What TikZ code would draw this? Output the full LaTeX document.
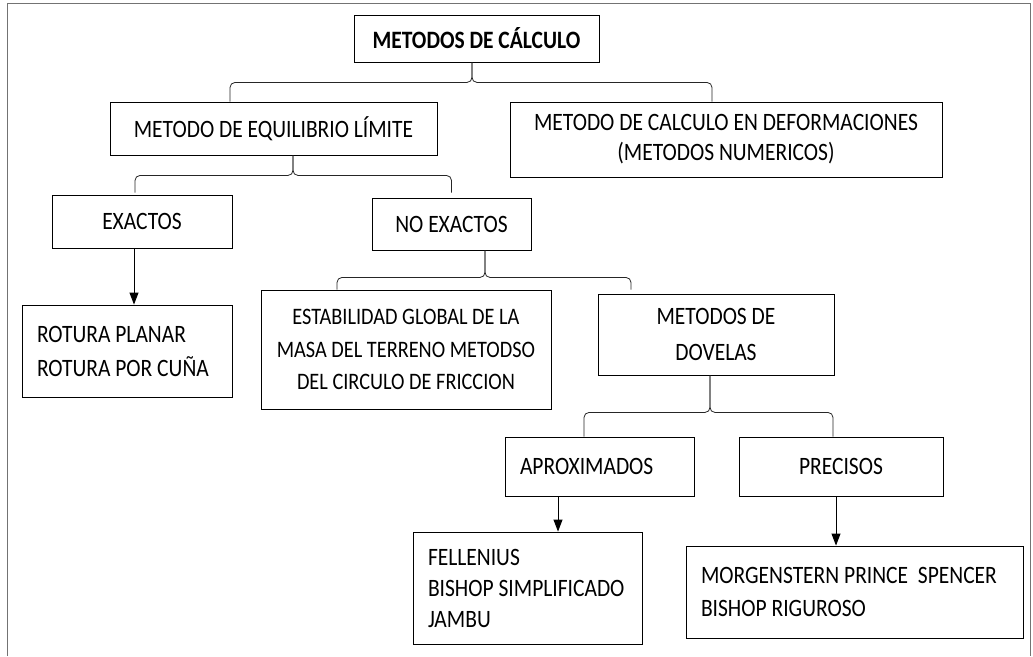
\documentclass[tikz,border=0pt]{standalone}
\usepackage{fontspec}
\setmainfont{Carlito}[FakeStretch=0.86]
\usepackage{tikz}
\usetikzlibrary{positioning}
\usetikzlibrary{arrows.meta}
\definecolor{framegray}{rgb}{0.45,0.45,0.45}

\begin{document}
\begin{tikzpicture}[x=1pt, y=-1pt, line width=0.9pt, >={Triangle[length=12pt, width=9pt]},
    every node/.style = {draw, rectangle, inner sep=0pt, align=center, font=\fontsize{25}{32}\selectfont},
    lbox/.style = {align=flush left, inner xsep=0pt, text width=#1, execute at begin node={\leftskip=15pt}},
    brace/.style = {draw=black!85, line width=0.8pt, rounded corners=5pt}
    ]
    \useasboundingbox (0,0) rectangle (1033,656);
    \draw[framegray, line width=0.8pt] (7,656) |- (1030,3) -- (1030,656);

    \node[minimum width=245pt, minimum height=47pt, font=\fontsize{25}{32}\selectfont\bfseries] (1) at (476.5,38.5) {METODOS DE CÁLCULO};
    \node[minimum width=327pt, minimum height=53pt] (2) at (273.5,128.5) {METODO DE EQUILIBRIO LÍMITE};
    \node[minimum width=432pt, minimum height=75pt, font=\fontsize{25}{30}\selectfont] (3) at (726,139.5) {METODO DE CALCULO EN DEFORMACIONES\\(METODOS NUMERICOS)};
    \node[minimum width=180pt, minimum height=53pt] (4) at (142,221.5) {EXACTOS};
    \node[minimum width=159pt, minimum height=52pt] (5) at (451.5,224) {NO EXACTOS};
    \node[lbox=210pt, minimum height=92pt, font=\fontsize{25}{34}\selectfont] (6) at (127,351) {ROTURA PLANAR\\ROTURA POR CUÑA};
    \node[minimum width=290pt, minimum height=119pt, font=\fontsize{23.6}{32.5}\selectfont] (7) at (406,349.5) {ESTABILIDAD GLOBAL DE LA\\MASA DEL TERRENO METODSO\\DEL CIRCULO DE FRICCION};
    \node[minimum width=236pt, minimum height=81pt, font=\fontsize{25}{36}\selectfont] (8) at (716,334.5) {METODOS DE\\DOVELAS};
    \node[lbox=189pt, minimum height=59pt] (9) at (599.5,466.5) {APROXIMADOS};
    \node[minimum width=204pt, minimum height=59pt] (10) at (841,466.5) {PRECISOS};
    \node[lbox=229pt, minimum height=112pt, font=\fontsize{25}{31}\selectfont] (11) at (527.5,588) {FELLENIUS\\BISHOP SIMPLIFICADO\\JAMBU};
    \node[lbox=337pt, minimum height=92pt, font=\fontsize{25}{33}\selectfont] (12) at (854.5,592) {MORGENSTERN PRINCE \ SPENCER\\BISHOP RIGUROSO};

    % braces
    \draw[brace] ([xshift=-43.5]2.north) |- ([xshift=-4.5, yshift=-20]1.south) -- ([xshift=-4.5]1.south);
    \draw[brace] ([xshift=-14]3.north) |- ([xshift=-4.5, yshift=-20]1.south) -- ([xshift=-4.5]1.south);
    \draw[brace] ([xshift=-7, yshift=2]4.north) |- ([xshift=19.5, yshift=-20]2.south) -- ([xshift=19.5]2.south);
    \draw[brace] ([yshift=5]5.north) |- ([xshift=19.5, yshift=-20]2.south) -- ([xshift=19.5]2.south);
    \draw[brace] ([xshift=-69]7.north) |- ([xshift=33.5, yshift=-27]5.south) -- ([xshift=33.5]5.south);
    \draw[brace] ([xshift=-85, yshift=4]8.north) |- ([xshift=33.5, yshift=-27]5.south) -- ([xshift=33.5]5.south);
    \draw[brace] ([xshift=-15.5]9.north) |- ([xshift=-6, yshift=-37]8.south) -- ([xshift=-6]8.south);
    \draw[brace] ([xshift=-8]10.north) |- ([xshift=-6, yshift=-37]8.south) -- ([xshift=-6]8.south);

    \draw[->] ([xshift=-8]4.south) -- ([xshift=-8]4.south |- 6.north);
    \draw[->] ([xshift=-41.5]9.south) -- ([xshift=-41.5]9.south |- 11.north);
    \draw[->] ([xshift=-5]10.south) -- ([xshift=-5]10.south |- 12.north);
\end{tikzpicture}
\end{document}
